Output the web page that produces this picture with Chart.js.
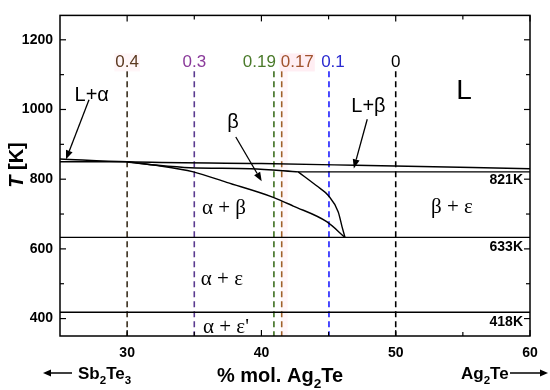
<!DOCTYPE html>
<html><head><meta charset="utf-8">
<script src="https://cdn.jsdelivr.net/npm/chart.js@4/dist/chart.umd.min.js"></script>
<style>html,body{margin:0;padding:0;background:#fff}</style>
</head><body>
<canvas id="c" width="550" height="390"></canvas>
<script>
// ---- data ----
const xTickValues = [30, 40, 50, 60];
const xMinorValues = [35, 45, 55];
const yTickValues = [400, 600, 800, 1000, 1200];
const yMinorValues = [500, 700, 900, 1100];

const liquidusLine   = [[25,858],[30,850],[40,845],[47,840],[60,830]];
const eutecticLeft   = [[25,850],[30,850]];
const betaSolidus    = [[30,850],[32.3,840],[34.7,833],[39.2,830],[42.8,821]];
const line821        = [[42.8,821],[60,821]];
const alphaBetaCurve = [[30,849],[32.45,838],[34.93,821],[37.41,791],[40.88,748],[42.37,723],[44.86,678],[46.22,633]];
const betaRightCurve = [[42.74,821],[44.11,781],[44.98,753],[45.72,706],[46.0,664],[46.22,633]];
const line633        = [[25,633],[60,633]];
const line418        = [[25,418],[60,418]];

const compX      = [30, 35, 40.93, 41.51, 45.03, 50];
const compLabels = ['0.4', '0.3', '0.19', '0.17', '0.1', '0'];
const compTop = 1110, compBottom = 350, compLabelT = 1135;

const phaseLabels = [
  {t:'L+\u03b1', x:27.36, y:1039},
  {t:'L+\u03b2', x:47.97, y:1009},
  {t:'L', x:55.08, y:1051, big:true},
  {t:'\u03b2', x:37.88, y:963},
  {t:'\u03b1 + \u03b2', x:37.21, y:715, serif:true},
  {t:'\u03b1 + \u03b5', x:37.06, y:513, serif:true},
  {t:"\u03b1 + \u03b5'", x:37.36, y:375, serif:true},
  {t:'\u03b2 + \u03b5', x:54.19, y:718, serif:true}
];
const tempLabels = [{t:'821K', y:797},{t:'633K', y:606},{t:'418K', y:389.5}];
const arrows = [
  {x1:27.16, y1:1028, x2:25.45, y2:857},
  {x1:38.09, y1:921, x2:40.02, y2:794},
  {x1:47.88, y1:972, x2:46.88, y2:831}
];

// ---- styles ----
const compColors   = ['#5c3a21', '#8a3a9a', '#4a7a2a', '#a0522d', '#2a2ad0', '#000000'];
const compDashCols = ['#3b2f1f', '#5a3a90', '#3c6e1e', '#a0602a', '#1e1eff', '#000000'];
const SANS = '"Liberation Sans", Arial, sans-serif';
const SERIF = '"Liberation Serif", "Times New Roman", serif';

const toPts = a => a.map(p => ({x:p[0], y:p[1]}));
function solid(data, curved){
  return {data: toPts(data), showLine:true, borderColor:'#000', borderWidth:1.4,
          pointRadius:0, fill:false, cubicInterpolationMode: curved ? 'monotone' : 'default', tension: 0};
}
const datasets = [
  solid(liquidusLine, true), solid(eutecticLeft), solid(betaSolidus, true), solid(line821),
  solid(alphaBetaCurve, true), solid(betaRightCurve, true), solid(line633), solid(line418)
];
compX.forEach((cx, i) => {
  datasets.push({data:[{x:cx,y:compTop},{x:cx,y:compBottom}], showLine:true, borderColor:compDashCols[i],
    borderWidth:1.6, borderDash:[6,4], pointRadius:0, fill:false});
});

function richText(ctx, segs, x, y, size, align){
  let w = 0;
  const meas = segs.map(s => {
    const fs = s.sub ? size*0.68 : size;
    ctx.font = (s.italic?'italic ':'') + 'bold ' + fs + 'px ' + SANS;
    const m = ctx.measureText(s.t).width; w += m; return {s, fs, m};
  });
  let cx = align === 'center' ? x - w/2 : (align === 'right' ? x - w : x);
  ctx.textAlign = 'left'; ctx.textBaseline = 'alphabetic';
  meas.forEach(o => {
    ctx.font = (o.s.italic?'italic ':'') + 'bold ' + o.fs + 'px ' + SANS;
    ctx.fillText(o.s.t, cx, y + (o.s.sub ? size*0.28 : 0));
    cx += o.m;
  });
}
function arrow(ctx, x1, y1, x2, y2, head, hw){
  const a = Math.atan2(y2-y1, x2-x1);
  const bx = x2 - head*Math.cos(a), by = y2 - head*Math.sin(a);
  ctx.beginPath(); ctx.moveTo(x1,y1); ctx.lineTo(bx,by); ctx.stroke();
  ctx.beginPath(); ctx.moveTo(x2,y2);
  ctx.lineTo(bx + hw*Math.sin(a), by - hw*Math.cos(a));
  ctx.lineTo(bx - hw*Math.sin(a), by + hw*Math.cos(a));
  ctx.closePath(); ctx.fill();
}

const deco = {
  id:'deco',
  beforeDatasetsDraw(chart){
    const {ctx, scales:{x, y}} = chart;
    ctx.save();
    ctx.fillStyle = 'rgba(255,190,210,0.14)';
    const l = x.getPixelForValue(41.45), r = x.getPixelForValue(41.95);
    ctx.fillRect(l, y.getPixelForValue(compTop), r-l, y.getPixelForValue(compBottom)-y.getPixelForValue(compTop));
    ctx.restore();
  },
  afterDraw(chart){
    const {ctx, chartArea:ca, scales:{x, y}} = chart;
    ctx.save();
    ctx.strokeStyle = '#000'; ctx.fillStyle = '#000'; ctx.lineWidth = 1.5;
    ctx.strokeRect(ca.left, ca.top, ca.right-ca.left, ca.bottom-ca.top);
    ctx.lineWidth = 1.2;
    const tick = (px, py, dx, dy) => { ctx.beginPath(); ctx.moveTo(px,py); ctx.lineTo(px+dx,py+dy); ctx.stroke(); };
    xTickValues.forEach(v => { const p = x.getPixelForValue(v); tick(p, ca.bottom, 0, -6); tick(p, ca.top, 0, 6); });
    xMinorValues.forEach(v => { const p = x.getPixelForValue(v); tick(p, ca.bottom, 0, -4); tick(p, ca.top, 0, 4); });
    yTickValues.forEach(v => { const p = y.getPixelForValue(v); tick(ca.left, p, 6, 0); tick(ca.right, p, -6, 0); });
    yMinorValues.forEach(v => { const p = y.getPixelForValue(v); tick(ca.left, p, 4, 0); tick(ca.right, p, -4, 0); });

    // composition labels
    ctx.font = '17px ' + SANS; ctx.textBaseline = 'middle';
    compX.forEach((cx, i) => {
      const px = x.getPixelForValue(cx), py = y.getPixelForValue(compLabelT);
      let align = 'center', off = 0;
      if (compLabels[i] === '0.19') { align = 'right'; off = 2; }
      if (compLabels[i] === '0.17') { align = 'left'; off = -1; }
      if (compLabels[i] === '0.1') { off = 4; }
      ctx.textAlign = align;
      const w = ctx.measureText(compLabels[i]).width;
      const bl = align==='center' ? px+off-w/2 : (align==='right' ? px+off-w : px+off);
      if (compLabels[i] === '0.17') { ctx.fillStyle = 'rgba(255,200,215,0.3)'; ctx.fillRect(bl-1, py-9, w+2, 18); }
      if (compLabels[i] === '0.4') { ctx.fillStyle = 'rgba(255,215,225,0.22)'; ctx.fillRect(bl-1, py-9, w+2, 18); }
      ctx.fillStyle = compColors[i];
      ctx.fillText(compLabels[i], px+off, py);
    });

    // phase labels
    ctx.fillStyle = '#000'; ctx.textAlign = 'center'; ctx.textBaseline = 'middle';
    phaseLabels.forEach(p => {
      ctx.font = p.big ? '28px ' + SANS : (p.serif ? '21px ' + SERIF : '20px ' + SANS);
      ctx.fillText(p.t, x.getPixelForValue(p.x), y.getPixelForValue(p.y));
    });
    ctx.font = 'bold 14px ' + SANS; ctx.textAlign = 'right';
    tempLabels.forEach(t => ctx.fillText(t.t, x.getPixelForValue(59.48), y.getPixelForValue(t.y)));

    ctx.lineWidth = 1.3;
    arrows.forEach(a => arrow(ctx, x.getPixelForValue(a.x1), y.getPixelForValue(a.y1),
                                  x.getPixelForValue(a.x2), y.getPixelForValue(a.y2), 9, 3.5));

    // axis titles
    richText(ctx, [{t:'% mol. Ag'},{t:'2',sub:true},{t:'Te'}], 280, 382, 20, 'center');
    richText(ctx, [{t:'Sb'},{t:'2',sub:true},{t:'Te'},{t:'3',sub:true}], 78, 379, 17, 'left');
    richText(ctx, [{t:'Ag'},{t:'2',sub:true},{t:'Te'}], 461, 379, 17, 'left');
    ctx.lineWidth = 1.5;
    arrow(ctx, 72, 373, 43, 373, 8, 3.5);
    arrow(ctx, 510, 373, 548, 373, 8, 3.5);
    ctx.save();
    ctx.translate(23, 165); ctx.rotate(-Math.PI/2);
    richText(ctx, [{t:'T', italic:true},{t:' [K]'}], 0, 0, 20, 'center');
    ctx.restore();
    ctx.restore();
  }
};

const tickFont = {family: SANS, size: 14, weight: 'bold'};
new Chart(document.getElementById('c'), {
  type: 'scatter',
  data: {datasets},
  options: {
    responsive: false, animation: false, devicePixelRatio: 1,
    layout: {padding: {top: 9, right: 20, left: 0, bottom: 0}},
    plugins: {legend: {display: false}, tooltip: {enabled: false}},
    scales: {
      x: {type: 'linear', min: 25, max: 60,
          grid: {display: false, drawTicks: false}, border: {display: false},
          ticks: {font: tickFont, color: '#000', padding: 9, maxRotation: 0, autoSkip: false, callback: v => String(v)},
          afterBuildTicks(s){ s.ticks = xTickValues.map(v => ({value: v})); },
          afterFit(s){ s.height = 54; }},
      y: {type: 'linear', min: 350, max: 1270,
          grid: {display: false, drawTicks: false}, border: {display: false},
          ticks: {font: tickFont, color: '#000', padding: 7, autoSkip: false, callback: v => String(v)},
          afterBuildTicks(s){ s.ticks = yTickValues.map(v => ({value: v})); },
          afterFit(s){ s.width = 60; }}
    }
  },
  plugins: [deco]
});
</script>
</body></html>
